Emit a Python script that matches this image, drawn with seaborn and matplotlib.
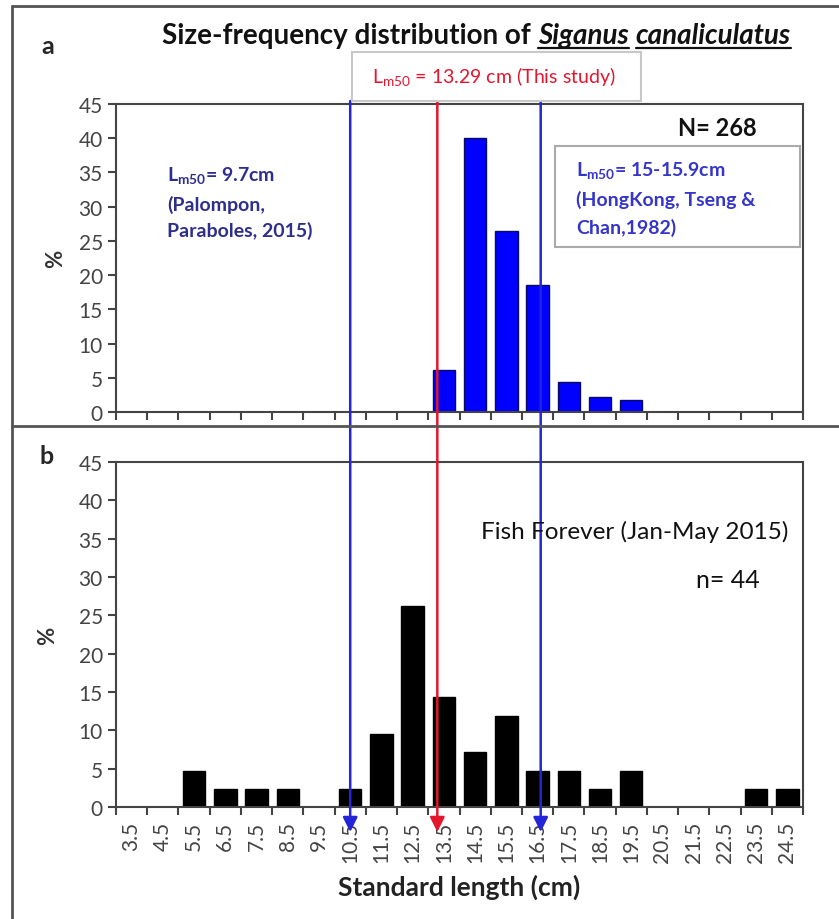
import numpy as np
import pandas as pd
import matplotlib.pyplot as plt
import matplotlib.transforms as mtransforms
from matplotlib.lines import Line2D
from matplotlib.patches import Rectangle
import seaborn as sns

# size classes (cm) and % frequency per class
lengths = [3.5, 4.5, 5.5, 6.5, 7.5, 8.5, 9.5, 10.5, 11.5, 12.5, 13.5,
           14.5, 15.5, 16.5, 17.5, 18.5, 19.5, 20.5, 21.5, 22.5, 23.5, 24.5]
pct_this_study = [0, 0, 0, 0, 0, 0, 0, 0, 0, 0, 6.2,
                  40.0, 26.5, 18.6, 4.4, 2.2, 1.8, 0, 0, 0, 0, 0]
pct_fish_forever = [0, 0, 4.76, 2.38, 2.38, 2.38, 0, 2.38, 9.52, 26.19, 14.29,
                    7.14, 11.9, 4.76, 4.76, 2.38, 4.76, 0, 0, 0, 2.38, 2.38]
# where the Lm50 arrows cross the length axis
arrow_lengths = [10.5, 13.29, 16.6]
arrow_colors = ['#2424d8', '#e3162e', '#2424d8']

labels = [f'{v:.1f}' for v in lengths]

sns.set_style('ticks')
plt.rcParams['font.family'] = ['Lato', 'DejaVu Sans']

W, H = 839, 920
fig = plt.figure(figsize=(W / 100, H / 100), dpi=100)


def fx(x):
    return x / W


def fy(y):
    return 1 - y / H


ax_a = fig.add_axes([fx(116), fy(413), fx(803) - fx(116), fy(105) - fy(413)])
ax_b = fig.add_axes([fx(116), fy(808), fx(803) - fx(116), fy(463) - fy(808)])

df_a = pd.DataFrame({'length': labels, 'pct': pct_this_study})
df_b = pd.DataFrame({'length': labels, 'pct': pct_fish_forever})

sns.barplot(data=df_a, x='length', y='pct', order=labels, color='#0000ff',
            saturation=1, width=0.72, edgecolor='#0a0a60', linewidth=1, ax=ax_a)
sns.barplot(data=df_b, x='length', y='pct', order=labels, color='black',
            saturation=1, width=0.72, edgecolor='black', linewidth=1, ax=ax_b)

for ax in (ax_a, ax_b):
    ax.set_xlim(-0.5, len(lengths) - 0.5)
    ax.set_ylim(0, 45)
    ax.set_yticks(np.arange(0, 46, 5))
    ax.set_xticks(np.arange(-0.5, len(lengths), 1))
    ax.set_xticklabels([])
    ax.set_xticks(np.arange(len(lengths)), minor=True)
    ax.tick_params(axis='both', which='major', direction='out', length=6,
                   width=1.5, color='#444444', labelsize=15, labelcolor='#444444')
    ax.tick_params(axis='x', which='minor', length=0, pad=10)
    for s in ax.spines.values():
        s.set_color('#444444')
        s.set_linewidth(1.5)
    ax.set_xlabel('')
    ax.set_ylabel('%', fontsize=16, fontweight='bold', color='#333333')

ax_a.yaxis.set_label_coords((66 - 116) / (803 - 116), 0.5)
ax_b.yaxis.set_label_coords((58 - 116) / (803 - 116), 0.5)

ax_b.set_xticklabels(labels, minor=True, rotation=90, fontsize=15, color='#444444')
ax_b.set_xlabel('Standard length (cm)', fontsize=19, fontweight='bold',
                color='#222222', labelpad=8)

# frame lines around the figure
for xs, ys in [((12, 839), (7, 7)), ((12, 12), (7, 920)), ((12, 839), (427, 427))]:
    fig.add_artist(Line2D([fx(xs[0]), fx(xs[1])], [fy(ys[0]), fy(ys[1])],
                          color='#555555', lw=2))

fig.text(fx(48), fy(47), 'a', fontsize=18, fontweight='bold', ha='center', va='center')
fig.text(fx(47), fy(457), 'b', fontsize=18, fontweight='bold', ha='center', va='center')

# title with underlined italic species name
renderer = fig.canvas.get_renderer()
x0 = 162
base = fy(44)
t1 = fig.text(fx(x0), base, 'Size-frequency distribution of', fontsize=20,
              fontweight='bold', va='baseline', color='#111111')
bb = t1.get_window_extent(renderer)
xcur = bb.x1 + 7
for word in ['Siganus', 'canaliculatus']:
    t = fig.text(fx(xcur), base, word, fontsize=20, fontweight='bold',
                 style='italic', va='baseline', color='#111111')
    wb = t.get_window_extent(renderer)
    fig.add_artist(Line2D([fx(wb.x0), fx(wb.x1)], [fy(49), fy(49)],
                          color='#111111', lw=1.6))
    xcur = wb.x1 + 7

# this study box
fig.add_artist(Rectangle((fx(352), fy(102)), fx(641) - fx(352), fy(53) - fy(102),
                         transform=fig.transFigure, facecolor='white',
                         edgecolor='#c8c8c8', lw=1.5, zorder=3))
fig.text(fx(372), fy(77), r'L$_{\mathregular{m50}}$ = 13.29 cm (This study)',
         fontsize=14, color='#e3162e', va='center', zorder=4)

# other references
fig.text(fx(167), fy(166), r'L$_{\mathregular{m50}}$= 9.7cm' + '\n(Palompon,\nParaboles, 2015)',
         fontsize=14, fontweight='bold', color='#2e2e8c', va='top', linespacing=1.55)
fig.add_artist(Rectangle((fx(555), fy(248)), fx(800) - fx(555), fy(147) - fy(248),
                         transform=fig.transFigure, facecolor='white',
                         edgecolor='#aaaaaa', lw=1.5, zorder=3))
fig.text(fx(576), fy(161), r'L$_{\mathregular{m50}}$= 15-15.9cm' + '\n(HongKong, Tseng &\nChan,1982)',
         fontsize=14, fontweight='bold', color='#3535cc', va='top', linespacing=1.6, zorder=4)
fig.text(fx(717), fy(128), 'N= 268', fontsize=17, fontweight='bold', ha='center',
         va='center', color='#111111')

fig.text(fx(635), fy(532), 'Fish Forever (Jan-May 2015)', fontsize=17.5, ha='center',
         va='center', color='#111111')
fig.text(fx(728), fy(580), 'n= 44', fontsize=18, ha='center', va='center', color='#111111')

# Lm50 arrows running across both panels
trans = mtransforms.blended_transform_factory(ax_b.transData, fig.transFigure)
for v, c in zip(arrow_lengths, arrow_colors):
    pos = v - lengths[0]
    ax_b.annotate('', xy=(pos, fy(833)), xycoords=trans,
                  xytext=(pos, fy(102)), textcoords=trans,
                  arrowprops=dict(arrowstyle='-|>', color=c, lw=1.8,
                                  mutation_scale=22, shrinkA=0, shrinkB=0),
                  annotation_clip=False, zorder=5)

fig.savefig('out.png', dpi=100)
